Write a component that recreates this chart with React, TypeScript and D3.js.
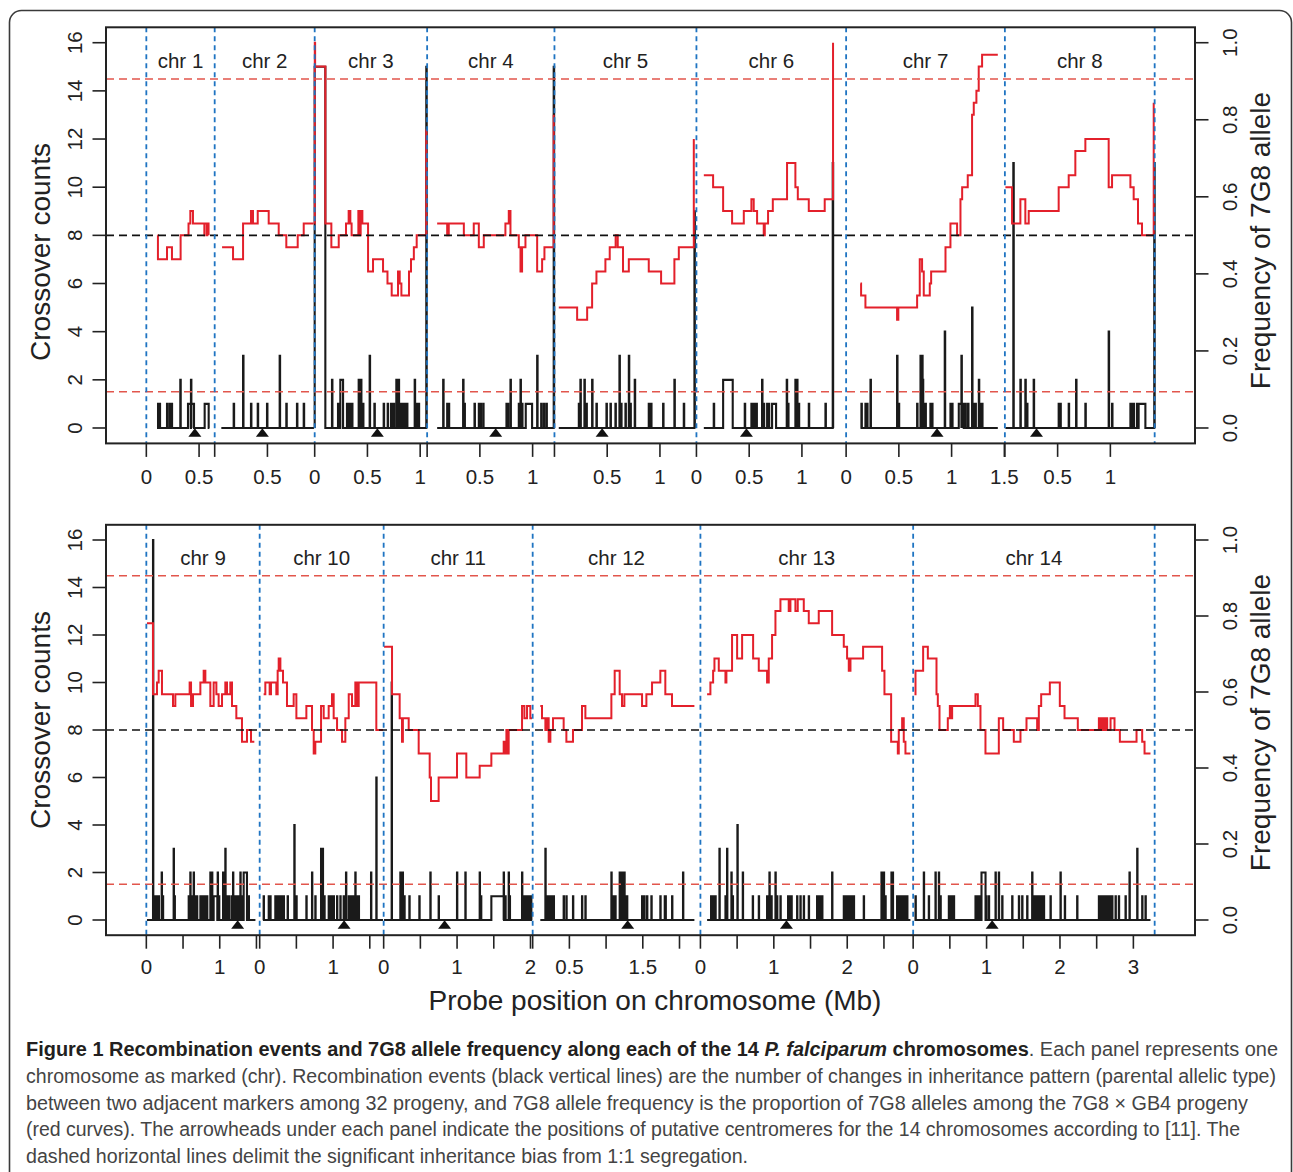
import * as d3 from "d3";

type Step = [number, number];
type Spike = [number, number, number?];

const FONT = "'Liberation Sans', Arial, Helvetica, sans-serif";

// ---- panel layout data (chromosome lengths in Mb, centromeres in Mb) ----
const topChroms = ["chr 1", "chr 2", "chr 3", "chr 4", "chr 5", "chr 6", "chr 7", "chr 8"];
const topLengths = [0.648, 0.948, 1.066, 1.207, 1.346, 1.419, 1.505, 1.42];
const topCentromeres = [0.46, 0.452, 0.594, 0.65, 0.452, 0.474, 0.862, 0.3];
const topTicks = [[0, 0.5], [0, 0.5], [0, 0.5, 1], [0, 0.5, 1], [0, 0.5, 1], [0, 0.5, 1], [0, 0.5, 1, 1.5], [0, 0.5, 1]];
const topTickLabels = [["0", "0.5"], ["", "0.5"], ["0", "0.5", "1"], ["", "0.5", "1"], ["", "0.5", "1"], ["0", "0.5", "1"], ["0", "0.5", "1", "1.5"], ["", "0.5", "1"]];

const bottomChroms = ["chr 9", "chr 10", "chr 11", "chr 12", "chr 13", "chr 14"];
const bottomLengths = [1.544, 1.689, 2.03, 2.285, 2.898, 3.29];
const bottomCentromeres = [1.244, 1.15, 0.83, 1.294, 1.172, 1.076];
const bottomTicks = [[0, 0.5, 1, 1.5], [0, 0.5, 1, 1.5], [0, 0.5, 1, 1.5, 2], [0, 0.5, 1, 1.5, 2], [0, 0.5, 1, 1.5, 2, 2.5], [0, 0.5, 1, 1.5, 2, 2.5, 3]];
const bottomTickLabels = [["0", "", "1", ""], ["0", "", "1", ""], ["0", "", "1", "", "2"], ["", "0.5", "", "1.5", ""], ["0", "", "1", "", "2", ""], ["0", "", "1", "", "2", "", "3"]];

const countTicks = [0, 2, 4, 6, 8, 10, 12, 14, 16];
const freqTicks = [0, 0.2, 0.4, 0.6, 0.8, 1.0];
const biasLimits = [0.094, 0.906];
const evenFreq = 0.5;

// ---- 7G8 allele frequency (red step curves): [position Mb, frequency] ----
const red1: Step[] = [[0.107, .5], [0.11, .438], [0.196, .469], [0.243, .438], [0.325, .5], [0.40, .531], [0.417, .563], [0.442, .531], [0.55, .5], [0.553, .531], [0.575, .5], [0.578, .531], [0.59, .5]];
const red2: Step[] = [[0.07, .469], [0.174, .438], [0.269, .531], [0.344, .563], [0.363, .531], [0.408, .563], [0.512, .531], [0.607, .5], [0.679, .469], [0.787, .5], [0.844, .531], [0.938, .531]];
const red3: Step[] = [[0, .531], [0.001, 1], [0.004, .938], [0.101, .531], [0.158, .469], [0.228, .5], [0.297, .531], [0.322, .563], [0.338, .531], [0.35, .5], [0.414, .563], [0.426, .5], [0.436, .563], [0.452, .531], [0.506, .406], [0.553, .438], [0.648, .406], [0.69, .375], [0.73, .344], [0.79, .406], [0.806, .375], [0.822, .344], [0.894, .406], [0.913, .438], [0.94, .469], [0.967, .5], [1.058, .775]];
const red4: Step[] = [[0.095, .531], [0.19, .5], [0.205, .531], [0.348, .5], [0.442, .531], [0.49, .469], [0.537, .5], [0.742, .531], [0.774, .563], [0.79, .5], [0.869, .469], [0.885, .406], [0.9, .469], [0.932, .5], [1.043, .406], [1.09, .438], [1.112, .469], [1.14, .469], [1.2, .813]];
const red5: Step[] = [[0.041, .313], [0.215, .281], [0.31, .313], [0.357, .375], [0.398, .406], [0.483, .438], [0.524, .469], [0.58, .5], [0.6, .469], [0.65, .406], [0.705, .438], [0.894, .406], [1.011, .375], [1.137, .438], [1.179, .469], [1.321, .75]];
const red6: Step[] = [[0.07, .656], [0.158, .625], [0.253, .563], [0.338, .531], [0.449, .563], [0.521, .594], [0.543, .563], [0.575, .531], [0.638, .5], [0.648, .531], [0.679, .563], [0.724, .594], [0.859, .688], [0.938, .625], [0.961, .594], [1.065, .563], [1.216, .594], [1.295, 1]];
const red7: Step[] = [[0.136, .375], [0.142, .344], [0.183, .313], [0.483, .281], [0.495, .313], [0.673, .344], [0.698, .438], [0.72, .406], [0.736, .344], [0.793, .375], [0.806, .406], [0.942, .469], [0.989, .531], [1.052, .5], [1.084, .594], [1.1, .625], [1.153, .656], [1.194, .813], [1.21, .844], [1.235, .875], [1.257, .938], [1.289, .969], [1.438, .969]];
const red8: Step[] = [[0.005, .625], [0.068, .531], [0.147, .594], [0.194, .531], [0.226, .563], [0.51, .625], [0.605, .656], [0.668, .719], [0.763, .75], [0.984, .625], [1.016, .656], [1.19, .625], [1.221, .594], [1.262, .531], [1.3, .5], [1.411, .844]];
const red9: Step[] = [[0.009, .781], [0.091, .594], [0.145, .625], [0.168, .656], [0.213, .594], [0.363, .563], [0.395, .594], [0.59, .625], [0.609, .563], [0.636, .594], [0.736, .625], [0.781, .656], [0.804, .625], [0.872, .563], [0.917, .625], [0.954, .594], [0.985, .563], [1.031, .594], [1.076, .625], [1.099, .594], [1.144, .625], [1.167, .563], [1.226, .531], [1.303, .469], [1.371, .5], [1.426, .469], [1.471, .469]];
const red10: Step[] = [[0.054, .594], [0.077, .625], [0.136, .594], [0.154, .625], [0.227, .594], [0.245, .656], [0.259, .688], [0.282, .656], [0.318, .625], [0.372, .563], [0.463, .594], [0.5, .531], [0.636, .563], [0.713, .5], [0.736, .438], [0.758, .469], [0.836, .563], [0.872, .531], [0.94, .563], [0.985, .594], [1.008, .531], [1.054, .5], [1.122, .469], [1.167, .531], [1.213, .594], [1.258, .563], [1.303, .625], [1.326, .563], [1.349, .625], [1.589, .5], [1.68, .5]];
const red11: Step[] = [[0.005, .719], [0.114, .594], [0.218, .531], [0.25, .469], [0.262, .531], [0.341, .5], [0.477, .438], [0.627, .375], [0.645, .313], [0.749, .375], [0.999, .438], [1.126, .375], [1.308, .406], [1.467, .438], [1.635, .469], [1.66, .438], [1.672, .5], [1.69, .438], [1.703, .5], [1.885, .563], [1.917, .531], [1.953, .563], [1.998, .531], [2.021, .531]];
const red12: Step[] = [[0.104, .563], [0.127, .531], [0.173, .5], [0.195, .531], [0.218, .469], [0.241, .5], [0.277, .531], [0.422, .5], [0.459, .469], [0.549, .5], [0.672, .563], [0.718, .531], [1.072, .594], [1.117, .656], [1.185, .594], [1.217, .563], [1.249, .594], [1.49, .563], [1.549, .594], [1.626, .625], [1.739, .656], [1.807, .594], [1.898, .563], [2.203, .563]];
const red13: Step[] = [[0.091, .594], [0.136, .625], [0.173, .656], [0.191, .688], [0.25, .656], [0.341, .625], [0.354, .656], [0.431, .75], [0.5, .688], [0.568, .75], [0.718, .688], [0.795, .656], [0.908, .625], [0.931, .688], [0.976, .75], [1.022, .813], [1.09, .844], [1.203, .813], [1.226, .844], [1.294, .813], [1.326, .844], [1.408, .813], [1.476, .781], [1.612, .813], [1.794, .75], [1.953, .719], [1.998, .688], [2.021, .656], [2.044, .688], [2.216, .719], [2.475, .656], [2.507, .594], [2.598, .469], [2.689, .438], [2.702, .5], [2.748, .531], [2.77, .469], [2.793, .438], [2.861, .438]];
const red14: Step[] = [[0.018, .594], [0.032, .656], [0.136, .719], [0.2, .688], [0.318, .594], [0.336, .563], [0.359, .5], [0.472, .531], [0.5, .563], [0.515, .531], [0.531, .563], [0.849, .594], [0.881, .563], [0.917, .5], [0.985, .438], [1.167, .531], [1.226, .5], [1.371, .469], [1.462, .5], [1.544, .531], [1.689, .5], [1.712, .563], [1.744, .594], [1.862, .625], [1.998, .563], [2.062, .531], [2.243, .5], [2.53, .531], [2.552, .5], [2.575, .531], [2.598, .5], [2.62, .531], [2.643, .5], [2.689, .531], [2.743, .5], [2.816, .469], [3.043, .5], [3.12, .469], [3.152, .438], [3.233, .438]];

// ---- crossover counts (black): [position Mb, count, width Mb if wider than a marker gap] ----
const black1: Spike[] = [[0.101, 0, 0.001], [0.111, 1], [0.126, 1], [0.196, 1], [0.221, 1], [0.24, 1], [0.322, 2], [0.395, 1, 0.026], [0.423, 2], [0.427, 1, 0.025], [0.553, 1, 0.038], [0.597, 0, 0.001]];
const black2: Spike[] = [[0.063, 0, 0.001], [0.18, 1], [0.269, 3], [0.344, 1], [0.408, 1], [0.496, 1], [0.616, 3], [0.679, 1], [0.78, 1], [0.844, 1], [0.94, 0, 0.001]];
const black3: Spike[] = [[0, 15, 0.101], [0.164, 2], [0.221, 1], [0.243, 2, 0.026], [0.306, 1], [0.322, 1], [0.338, 1], [0.354, 1], [0.417, 2], [0.439, 2], [0.458, 1], [0.521, 3], [0.566, 1], [0.654, 1], [0.692, 1], [0.724, 1], [0.736, 1], [0.749, 1], [0.774, 2], [0.796, 2], [0.812, 1], [0.828, 1], [0.844, 1], [0.859, 1], [0.875, 1], [0.948, 2], [0.97, 1], [0.986, 1], [1.058, 15]];
const black4: Spike[] = [[0.152, 2], [0.19, 1], [0.205, 1], [0.341, 2], [0.354, 1], [0.449, 1], [0.49, 1], [0.506, 1], [0.531, 1], [0.752, 1], [0.765, 1], [0.79, 2], [0.869, 1], [0.885, 2], [0.9, 1], [0.935, 1, 0.06], [1.043, 3], [1.081, 1], [1.106, 1], [1.131, 1], [1.2, 15]];
const black5: Spike[] = [[0.231, 1], [0.246, 2], [0.284, 2], [0.303, 1], [0.357, 2], [0.398, 1], [0.493, 1], [0.531, 1], [0.578, 1], [0.616, 3], [0.632, 1], [0.673, 1], [0.705, 3], [0.72, 1], [0.761, 2], [0.894, 1], [0.916, 1], [1.03, 1], [1.137, 2], [1.226, 1], [1.327, 9]];
const black6: Spike[] = [[0.164, 1], [0.253, 2, 0.091], [0.458, 1], [0.521, 1], [0.534, 1], [0.553, 1], [0.569, 1], [0.622, 2], [0.638, 1], [0.67, 1], [0.686, 1], [0.717, 1, 0.038], [0.856, 2], [0.869, 1], [0.938, 2], [0.954, 2], [0.97, 1], [1.065, 1], [1.223, 1], [1.292, 11]];
const black7: Spike[] = [[0.145, 1], [0.183, 1], [0.199, 1], [0.231, 2], [0.483, 3], [0.499, 1], [0.673, 1], [0.705, 3, 0.02], [0.727, 2], [0.736, 1], [0.752, 1], [0.799, 1], [0.815, 1], [0.935, 4], [0.989, 1], [1.005, 1], [1.068, 1, 0.025], [1.093, 3], [1.097, 1, 0.018], [1.131, 1], [1.156, 1], [1.194, 5], [1.21, 1], [1.226, 1], [1.258, 2], [1.273, 1], [1.289, 1]];
const black8: Spike[] = [[0.08, 11], [0.147, 2], [0.194, 2], [0.21, 1], [0.273, 2], [0.51, 1], [0.526, 1], [0.605, 1], [0.675, 2], [0.763, 1], [0.984, 4], [1.016, 1], [1.19, 1], [1.205, 1], [1.221, 1], [1.253, 1], [1.268, 1, 0.064], [1.416, 11]];
const black9: Spike[] = [[0.091, 16], [0.123, 1], [0.145, 1], [0.168, 1], [0.209, 2], [0.225, 1], [0.372, 3], [0.385, 1], [0.577, 1], [0.599, 2], [0.622, 1], [0.645, 2], [0.668, 1], [0.69, 1], [0.736, 1], [0.758, 1], [0.781, 1], [0.804, 1], [0.827, 1], [0.872, 2], [0.895, 2], [0.917, 1, 0.05], [0.972, 2], [0.99, 1], [1.045, 2], [1.076, 3], [1.099, 1], [1.13, 1], [1.167, 1], [1.181, 2], [1.2, 1], [1.23, 1], [1.258, 1], [1.281, 2], [1.3, 1], [1.326, 2, 0.045], [1.394, 1], [1.485, 0, 0.001]];
const black10: Spike[] = [[0.054, 1], [0.123, 1], [0.145, 1], [0.213, 1], [0.236, 1], [0.259, 1], [0.282, 1], [0.304, 1], [0.327, 1], [0.381, 1], [0.472, 4], [0.5, 1], [0.636, 1], [0.713, 2], [0.758, 1], [0.836, 3, 0.027], [0.881, 1], [0.94, 1], [0.963, 1], [0.985, 1], [1.008, 1], [1.054, 1], [1.099, 1], [1.144, 1], [1.176, 2], [1.213, 1], [1.235, 1], [1.258, 1], [1.281, 1], [1.303, 2], [1.326, 1], [1.349, 1], [1.517, 2], [1.589, 6]];
const black11: Spike[] = [[0.109, 10], [0.227, 2], [0.259, 2], [0.282, 1], [0.35, 1], [0.486, 1], [0.636, 2], [0.749, 1], [0.999, 2], [1.113, 2], [1.308, 2], [1.326, 1], [1.467, 1, 0.168], [1.635, 2], [1.658, 1], [1.703, 2], [1.717, 1], [1.885, 2], [1.917, 1], [1.944, 1], [1.976, 1], [2.008, 1]];
const black12: Spike[] = [[0.173, 3], [0.195, 1], [0.218, 1], [0.241, 1], [0.263, 1], [0.286, 1], [0.422, 1], [0.459, 1], [0.549, 1], [0.672, 1], [0.718, 1], [1.072, 2], [1.094, 1], [1.126, 1], [1.185, 2], [1.217, 2], [1.231, 1], [1.249, 2], [1.267, 1], [1.285, 1], [1.49, 1], [1.521, 1], [1.558, 1], [1.617, 1], [1.739, 1], [1.799, 1], [1.81, 1], [1.899, 1], [2.048, 2]];
const black13: Spike[] = [[0.145, 1], [0.159, 1], [0.173, 1], [0.188, 1], [0.204, 1], [0.259, 3], [0.341, 1], [0.363, 3], [0.422, 2], [0.44, 1], [0.504, 4], [0.577, 2], [0.713, 1], [0.795, 1], [0.908, 1], [0.931, 1], [0.94, 2], [0.967, 1], [1.022, 2], [1.044, 1], [1.09, 1], [1.194, 1], [1.205, 1], [1.217, 1], [1.24, 1], [1.317, 1], [1.362, 1], [1.408, 1], [1.476, 1], [1.589, 1], [1.612, 1], [1.635, 1], [1.658, 1], [1.794, 2], [1.953, 1], [1.975, 1], [1.998, 1], [2.021, 1], [2.044, 1], [2.067, 1], [2.089, 1], [2.225, 1], [2.466, 2], [2.498, 2], [2.52, 1], [2.602, 2], [2.62, 2], [2.679, 1], [2.702, 1], [2.725, 1], [2.748, 1], [2.77, 1], [2.793, 1], [2.816, 1]];
const black14: Spike[] = [[0.032, 1], [0.145, 2], [0.213, 1], [0.304, 2], [0.35, 2], [0.372, 1], [0.486, 1], [0.509, 1], [0.531, 1], [0.554, 1], [0.849, 1], [0.872, 1], [0.895, 1], [0.917, 1], [0.931, 2, 0.055], [0.995, 1], [1.031, 1], [1.122, 2], [1.167, 2], [1.213, 1], [1.349, 1], [1.44, 1], [1.485, 1], [1.553, 1], [1.621, 2], [1.644, 1], [1.667, 1], [1.689, 1], [1.712, 1], [1.735, 1], [1.757, 1], [1.78, 1], [1.871, 1], [2.007, 2], [2.066, 1], [2.234, 1], [2.53, 1], [2.552, 1], [2.575, 1], [2.598, 1], [2.62, 1], [2.643, 1], [2.666, 1], [2.689, 1], [2.711, 1], [2.757, 1], [2.802, 1], [2.893, 1], [2.947, 2], [3.052, 3], [3.12, 1], [3.165, 1]];

const topRed = [red1, red2, red3, red4, red5, red6, red7, red8];
const topBlack = [black1, black2, black3, black4, black5, black6, black7, black8];
const bottomRed = [red9, red10, red11, red12, red13, red14];
const bottomBlack = [black9, black10, black11, black12, black13, black14];

// turn spike list into a step series along the marker range
function spikeSteps(spikes: Spike[], start: number, end: number): Step[] {
  const s = [...spikes].sort((a, b) => a[0] - b[0]);
  const pts: Step[] = [[Math.min(start, s[0][0]), 0]];
  s.forEach((sp, i) => {
    const w = sp[2] ?? 0.004;
    const next = i < s.length - 1 ? s[i + 1][0] : Infinity;
    pts.push([sp[0], sp[1]]);
    pts.push([Math.min(sp[0] + w, next), 0]);
  });
  pts.push([Math.max(end, pts[pts.length - 1][0]), 0]);
  return pts;
}

const LEFT = 106;
const RIGHT = 1195;

function Panel({ chroms, lengths, cents, ticks, tickLabels, reds, blacks, top, bottom, leftTitleY, rightTitleY, tickBase, chrBase }: {
  chroms: string[]; lengths: number[]; cents: number[]; ticks: number[][]; tickLabels: string[][];
  reds: Step[][]; blacks: Spike[][]; top: number; bottom: number; leftTitleY: number; rightTitleY: number;
  tickBase: number; chrBase: number;
}) {
  const total = d3.sum(lengths);
  const offsets = lengths.map((_, i) => d3.sum(lengths.slice(0, i)));
  const x = d3.scaleLinear().domain([-0.04 * total, 1.04 * total]).range([LEFT, RIGHT]);
  const yCount = d3.scaleLinear().domain([-0.64, 16.64]).range([bottom, top]);
  const yFreq = d3.scaleLinear().domain([-0.04, 1.04]).range([bottom, top]);

  const redLine = (off: number) => d3.line<Step>().x((d) => x(off + d[0])).y((d) => yFreq(d[1])).curve(d3.curveStepAfter);
  const blackLine = (off: number) => d3.line<Step>().x((d) => x(off + d[0])).y((d) => yCount(d[1])).curve(d3.curveStepAfter);

  const bounds = [...offsets, total];

  return (
    <g>
      {/* crossover counts */}
      {blacks.map((b, i) => {
        const r = reds[i];
        const pts = spikeSteps(b, r[0][0], r[r.length - 1][0]);
        return <path key={"b" + i} d={blackLine(offsets[i])(pts) ?? ""} fill="none" stroke="#1a1a1a" strokeWidth={2.1} />;
      })}
      {/* allele frequency */}
      {reds.map((r, i) => (
        <path key={"r" + i} d={redLine(offsets[i])(r) ?? ""} fill="none" stroke="#e3202b" strokeWidth={2} />
      ))}
      {/* dashed reference lines */}
      {biasLimits.map((f) => (
        <line key={f} x1={LEFT} x2={RIGHT} y1={yFreq(f)} y2={yFreq(f)} stroke="#e2564c" strokeWidth={1.6} strokeDasharray="8 5" />
      ))}
      <line x1={LEFT} x2={RIGHT} y1={yFreq(evenFreq)} y2={yFreq(evenFreq)} stroke="#111" strokeWidth={1.6} strokeDasharray="8 5" />
      {bounds.map((b, i) => (
        <line key={"v" + i} x1={x(b)} x2={x(b)} y1={top} y2={bottom} stroke="#1f74c2" strokeWidth={1.8} strokeDasharray="5 4" />
      ))}
      {/* centromeres */}
      {cents.map((c, i) => {
        const cx = x(offsets[i] + c);
        const ty = yCount(0) + 0.3;
        return <path key={"c" + i} d={`M${cx},${ty}L${cx + 6.5},${ty + 8.5}L${cx - 6.5},${ty + 8.5}Z`} fill="#111" />;
      })}
      {/* chromosome labels */}
      {chroms.map((c, i) => (
        <text key={c} x={x(offsets[i] + lengths[i] / 2)} y={chrBase} textAnchor="middle" fontSize={20.5} fill="#222">{c}</text>
      ))}
      {/* box */}
      <rect x={LEFT} y={top} width={RIGHT - LEFT} height={bottom - top} fill="none" stroke="#222" strokeWidth={2} />
      {/* left axis */}
      {countTicks.map((t) => (
        <g key={"l" + t}>
          <line x1={LEFT - 13.5} x2={LEFT} y1={yCount(t)} y2={yCount(t)} stroke="#222" strokeWidth={1.6} />
          <text transform={`translate(82,${yCount(t)}) rotate(-90)`} textAnchor="middle" fontSize={20.5} fill="#222">{t}</text>
        </g>
      ))}
      <text transform={`translate(49.5,${leftTitleY}) rotate(-90)`} textAnchor="middle" fontSize={28} fill="#222">Crossover counts</text>
      {/* right axis */}
      {freqTicks.map((t) => (
        <g key={"r" + t}>
          <line x1={RIGHT} x2={RIGHT + 13.5} y1={yFreq(t)} y2={yFreq(t)} stroke="#222" strokeWidth={1.6} />
          <text transform={`translate(1236.5,${yFreq(t)}) rotate(-90)`} textAnchor="middle" fontSize={20.5} fill="#222">{t.toFixed(1)}</text>
        </g>
      ))}
      <text transform={`translate(1270,${rightTitleY}) rotate(-90)`} textAnchor="middle" fontSize={28} fill="#222">Frequency of 7G8 allele</text>
      {/* bottom axis */}
      {ticks.map((ts, i) =>
        ts.map((t, j) => (
          <g key={`t${i}-${j}`}>
            <line x1={x(offsets[i] + t)} x2={x(offsets[i] + t)} y1={bottom} y2={bottom + 13.5} stroke="#222" strokeWidth={1.6} />
            {tickLabels[i][j] && (
              <text x={x(offsets[i] + t)} y={tickBase} textAnchor="middle" fontSize={20.5} fill="#222">{tickLabels[i][j]}</text>
            )}
          </g>
        ))
      )}
    </g>
  );
}

export default function App() {
  const capFont = "'Liberation Sans Narrow', 'Arial Narrow', 'Liberation Sans', sans-serif";
  return (
    <svg width={1293} height={1172} style={{ position: "absolute", left: 0, top: 0, background: "#fff" }} fontFamily={FONT}>
      <rect x={9.5} y={10.5} width={1282} height={1220} rx={12} fill="none" stroke="#3a3a3a" strokeWidth={1.6} />
      <Panel chroms={topChroms} lengths={topLengths} cents={topCentromeres} ticks={topTicks} tickLabels={topTickLabels}
        reds={topRed} blacks={topBlack} top={27.3} bottom={443.4} leftTitleY={252} rightTitleY={240.5} tickBase={483.5} chrBase={68.3} />
      <Panel chroms={bottomChroms} lengths={bottomLengths} cents={bottomCentromeres} ticks={bottomTicks} tickLabels={bottomTickLabels}
        reds={bottomRed} blacks={bottomBlack} top={524.8} bottom={935.2} leftTitleY={720} rightTitleY={722.5} tickBase={973.5} chrBase={565} />
      <text x={655} y={1010} textAnchor="middle" fontSize={28} fill="#222">Probe position on chromosome (Mb)</text>
      <g fontFamily={capFont} fontSize={20} fill="#444">
        <text x={26} y={1056} textLength={1252} lengthAdjust="spacingAndGlyphs">
          <tspan fontWeight="bold" fill="#231f20">Figure 1 Recombination events and 7G8 allele frequency along each of the 14 </tspan>
          <tspan fontWeight="bold" fontStyle="italic" fill="#231f20">P. falciparum</tspan>
          <tspan fontWeight="bold" fill="#231f20"> chromosomes</tspan>
          <tspan>. Each panel represents one</tspan>
        </text>
        <text x={26} y={1083} textLength={1250} lengthAdjust="spacingAndGlyphs">chromosome as marked (chr). Recombination events (black vertical lines) are the number of changes in inheritance pattern (parental allelic type)</text>
        <text x={26} y={1109.5} textLength={1222} lengthAdjust="spacingAndGlyphs">between two adjacent markers among 32 progeny, and 7G8 allele frequency is the proportion of 7G8 alleles among the 7G8 × GB4 progeny</text>
        <text x={26} y={1136} textLength={1214} lengthAdjust="spacingAndGlyphs">(red curves). The arrowheads under each panel indicate the positions of putative centromeres for the 14 chromosomes according to [11]. The</text>
        <text x={26} y={1163} textLength={722} lengthAdjust="spacingAndGlyphs">dashed horizontal lines delimit the significant inheritance bias from 1:1 segregation.</text>
      </g>
    </svg>
  );
}
